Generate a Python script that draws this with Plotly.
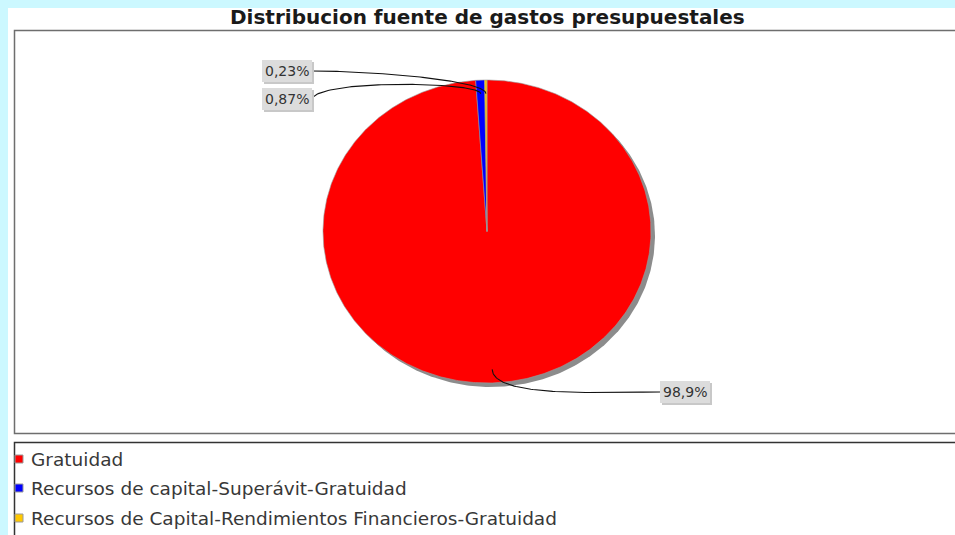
import numpy as np
import plotly.graph_objects as go

# ---- data ----
categories = [
    "Gratuidad",
    "Recursos de capital-Superávit-Gratuidad",
    "Recursos de Capital-Rendimientos Financieros-Gratuidad",
]
shares = [98.9, 0.87, 0.23]
share_labels = ["98,9%", "0,87%", "0,23%"]
title_text = "Distribucion fuente de gastos presupuestales"

# ---- style / layout ----
colors = ["#FF0000", "#0000FF", "#FFC800"]
W, H = 955, 535
cx, cy, rx, ry = 487, 231.5, 164, 151.5
shadow_off = 4
# label text centres and the edge where the link meets the label
label_pos = [(685, 392), (287, 99), (287, 71)]
label_edge = [(660, 392), (312, 99), (312, 71)]
box_w, box_h = 50, 22
# second control point for each link curve
link_c2 = [(600, 392), (318, 79), (372, 71)]
link_out = [1.1, 0.99, 1.0]
anchor_r = 0.91

fig = go.Figure()


def ell(theta, k=1.0, dx=0.0, dy=0.0):
    return cx + dx + k * rx * np.sin(theta), cy + dy - k * ry * np.cos(theta)


# shadow
t = np.linspace(0, 2 * np.pi, 500)
sx, sy = ell(t, dx=shadow_off, dy=shadow_off)
fig.add_trace(go.Scatter(x=sx, y=sy, fill="toself", fillcolor="#8C8C8C",
                         line=dict(width=0), mode="lines", hoverinfo="skip"))

# slices (clockwise from 12 o'clock)
total = sum(shares)
start = 0.0
mids = []
for val, col, name in zip(shares, colors, categories):
    a0 = start / total * 2 * np.pi
    a1 = (start + val) / total * 2 * np.pi
    n = max(3, int(600 * val / total))
    th = np.linspace(a0, a1, n)
    px, py = ell(th)
    xs = np.concatenate([[cx], px, [cx]])
    ys = np.concatenate([[cy], py, [cy]])
    fig.add_trace(go.Scatter(x=xs, y=ys, fill="toself", fillcolor=col,
                             line=dict(color="#9A9A9A", width=0.6), mode="lines",
                             name=name, hoverinfo="name"))
    mids.append((a0 + a1) / 2)
    start += val

# label links (cubic curves)
for i, m in enumerate(mids):
    p0 = np.array(ell(m, anchor_r))
    p1 = np.array(ell(m, link_out[i]))
    p2 = np.array(link_c2[i], dtype=float)
    p3 = np.array(label_edge[i], dtype=float)
    s = np.linspace(0, 1, 80)[:, None]
    pts = ((1 - s) ** 3) * p0 + 3 * ((1 - s) ** 2) * s * p1 + 3 * (1 - s) * s ** 2 * p2 + s ** 3 * p3
    fig.add_trace(go.Scatter(x=pts[:, 0], y=pts[:, 1], mode="lines",
                             line=dict(color="#111111", width=1.1), hoverinfo="skip"))

shapes = [
    dict(type="rect", x0=8, y0=8, x1=W + 5, y1=H + 5, fillcolor="white",
         line=dict(width=0), layer="below", xref="x", yref="y"),
    dict(type="rect", x0=14.5, y0=30.5, x1=W + 5, y1=433.5, fillcolor="rgba(0,0,0,0)",
         line=dict(color="#6E6E6E", width=1.5), layer="below", xref="x", yref="y"),
    dict(type="rect", x0=14.5, y0=442.5, x1=W + 5, y1=H + 5, fillcolor="rgba(0,0,0,0)",
         line=dict(color="#333333", width=1.5), layer="below", xref="x", yref="y"),
]

annotations = []
# label boxes (shadow + box) as shapes, text as annotations
for (lx, ly), lab in zip(label_pos, share_labels):
    shapes.append(dict(type="rect", x0=lx - box_w / 2 + 2, x1=lx + box_w / 2 + 2,
                       y0=ly - box_h / 2 + 2, y1=ly + box_h / 2 + 2,
                       fillcolor="#C8C8C8", line=dict(width=0), layer="above",
                       xref="x", yref="y"))
    shapes.append(dict(type="rect", x0=lx - box_w / 2, x1=lx + box_w / 2,
                       y0=ly - box_h / 2, y1=ly + box_h / 2,
                       fillcolor="#DCDCDC", line=dict(width=0), layer="above",
                       xref="x", yref="y"))
    annotations.append(dict(x=lx, y=ly, text=lab, showarrow=False,
                            font=dict(family="DejaVu Sans", size=14, color="#333333"),
                            xref="x", yref="y"))

# title
annotations.append(dict(x=487, y=17, text="<b>" + title_text + "</b>", showarrow=False,
                        font=dict(family="DejaVu Sans", size=20, color="#1A1A1A"),
                        xref="x", yref="y"))

# legend
leg_y = [459, 488, 518]
fig.add_trace(go.Scatter(x=[19] * len(categories), y=leg_y, mode="markers",
                         marker=dict(symbol="square", size=8, color=colors,
                                     line=dict(color="#9A9A9A", width=1)),
                         hoverinfo="skip"))
for yy, name in zip(leg_y, categories):
    annotations.append(dict(x=29, y=yy, text=name, showarrow=False, xanchor="left",
                            font=dict(family="DejaVu Sans", size=18.5, color="#383838"),
                            xref="x", yref="y"))

fig.update_layout(
    width=W, height=H,
    margin=dict(l=0, r=0, t=0, b=0),
    paper_bgcolor="#CCF8FF", plot_bgcolor="rgba(0,0,0,0)",
    showlegend=False,
    xaxis=dict(range=[0, W], visible=False, fixedrange=True),
    yaxis=dict(range=[H, 0], visible=False, fixedrange=True),
    annotations=annotations, shapes=shapes,
)

fig.write_html(
    "out.html",
    config={"displayModeBar": False},
    post_script="document.body.style.margin='0';document.body.style.overflow='hidden';"
                "document.body.style.background='#CCF8FF';",
)
